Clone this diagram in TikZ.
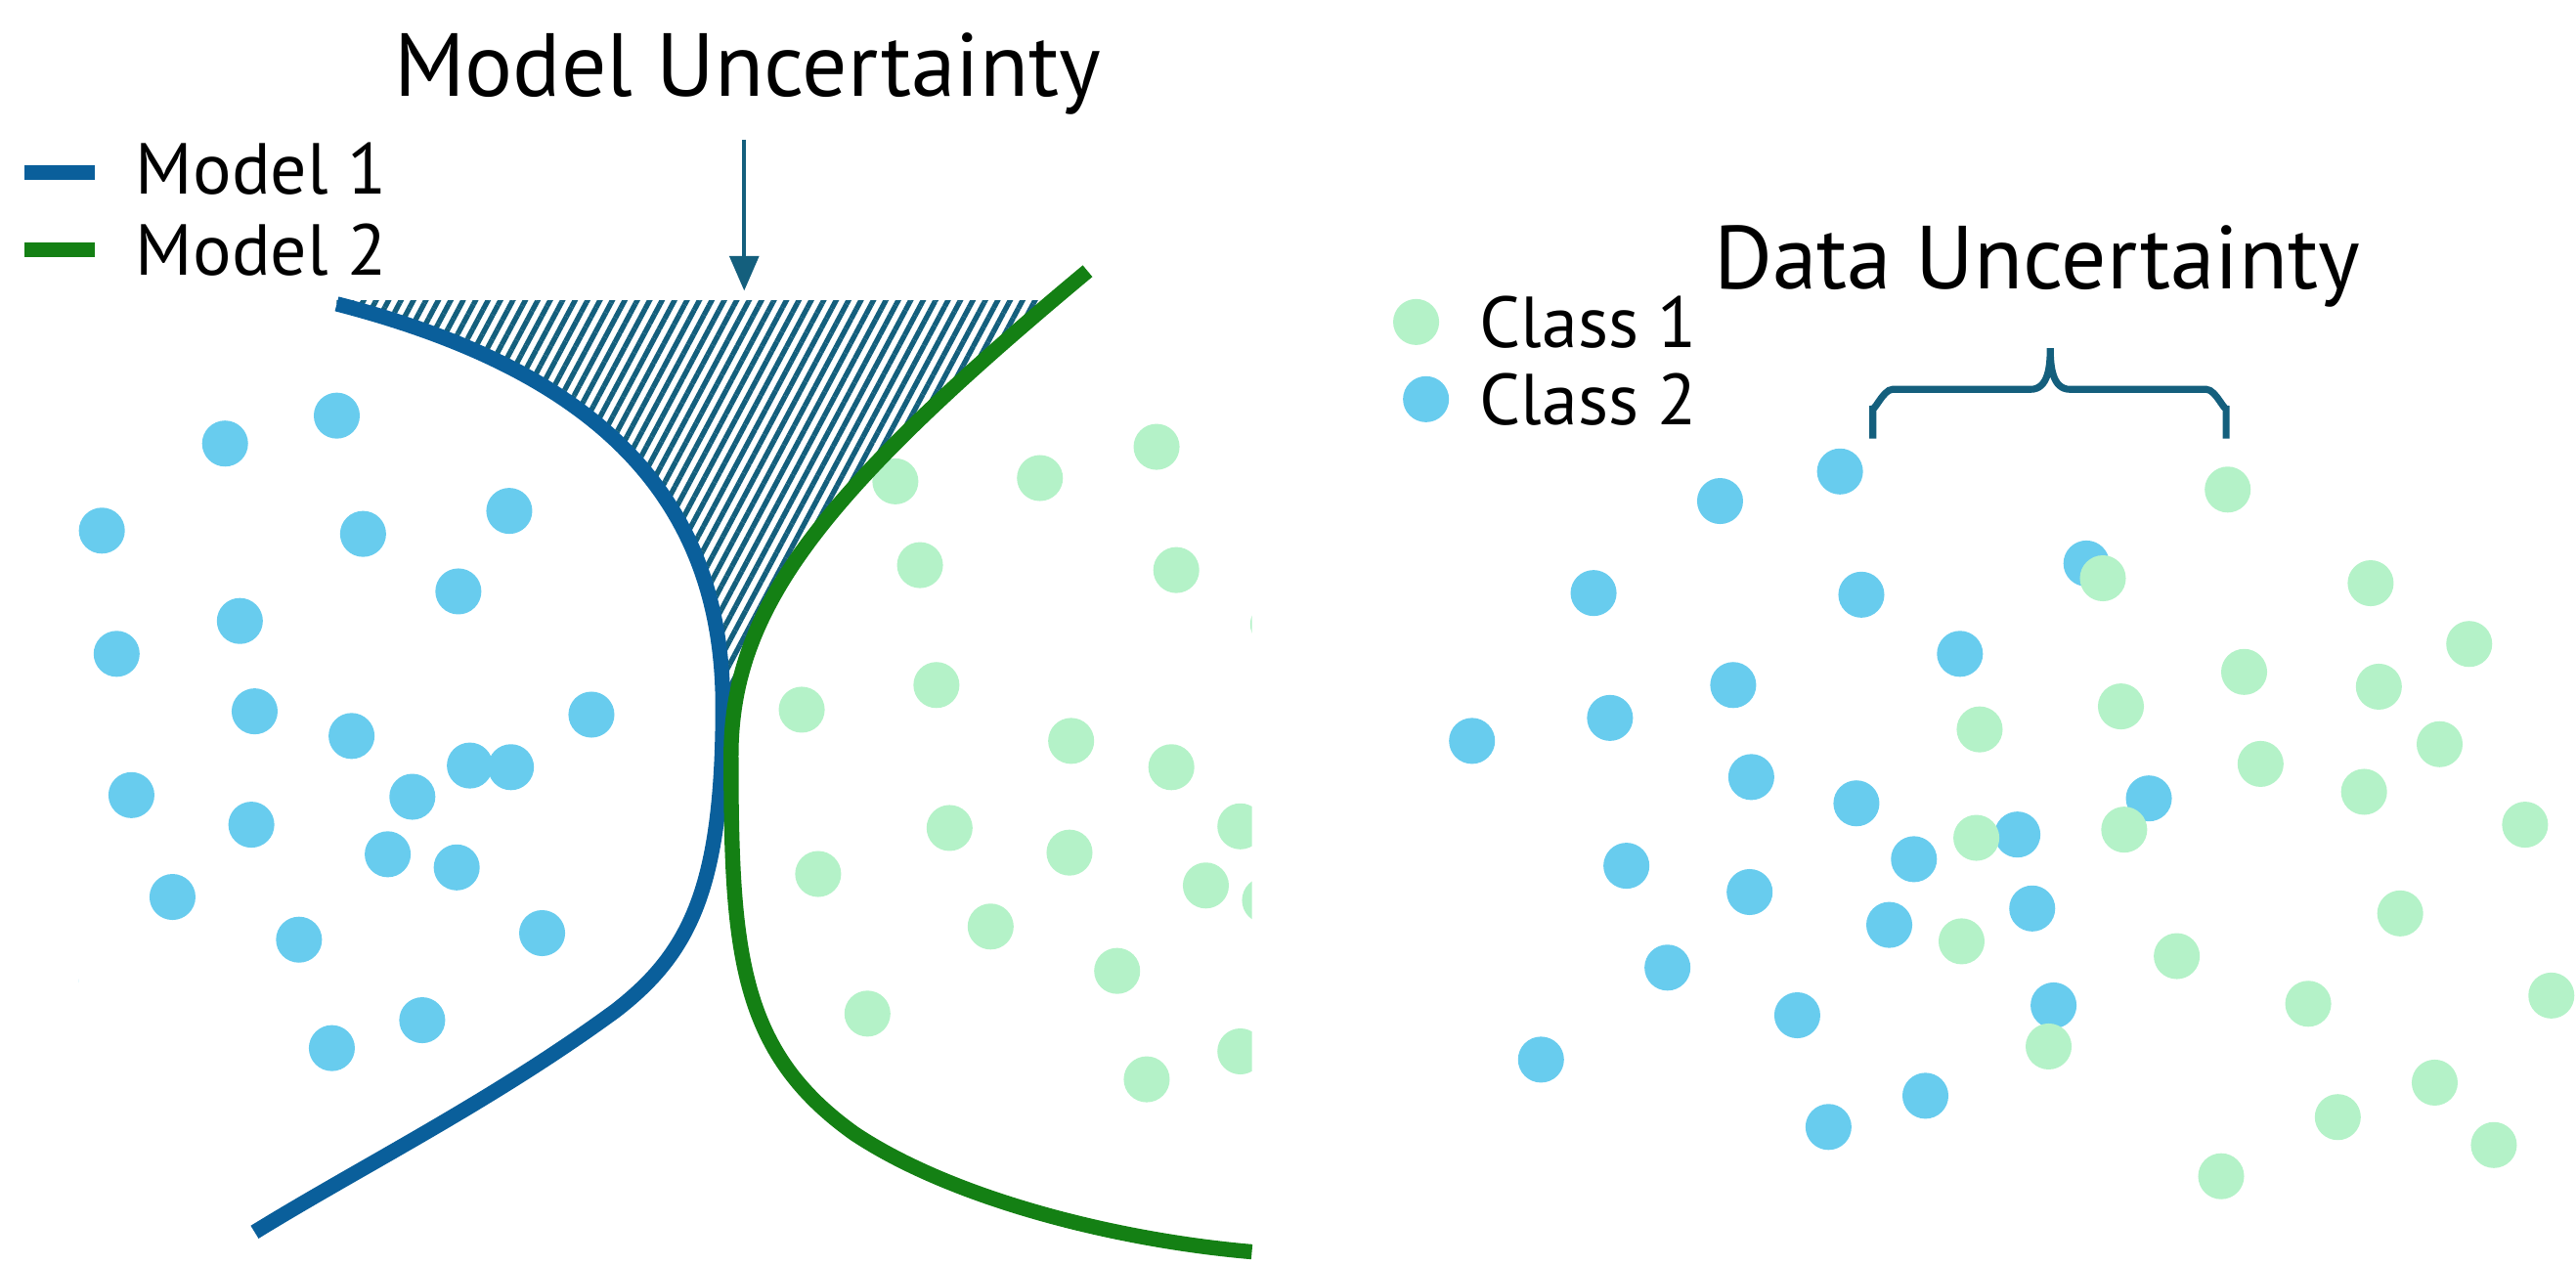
\documentclass[tikz,border=0pt]{standalone}
\usepackage{fontspec}
\setmainfont{PT Sans}
\usetikzlibrary{patterns.meta,arrows.meta}
\definecolor{mblue}{RGB}{10,95,155}
\definecolor{mgreen}{RGB}{20,128,20}
\definecolor{dblue}{RGB}{104,204,238}
\definecolor{dgreen}{RGB}{180,242,200}
\definecolor{teal}{RGB}{20,95,125}
\begin{document}
\begin{tikzpicture}[x=0.01cm,y=-0.01cm,
  lbl/.style={font=\fontsize{12.5}{15}\selectfont,anchor=west,inner sep=0},
  ttl/.style={font=\fontsize{15.5}{18}\selectfont,inner sep=0}]
\useasboundingbox (0,0) rectangle (1568,770);
\def\R{14}
% left dots
\begin{scope}
\clip (48,0) rectangle (762,770);
\foreach \x/\y in {137/270,205/253,62/323,221/325,310/311,146/378,279/360,71/398,155/433,214/448,360/435,80/484,153/502,251/485,286/466,311/467,236/520,278/528,105/546,182/572,330/568,202/638,257/621,34/597}
  \fill[dblue] (\x,\y) circle (\R);
\foreach \x/\y in {545/293,633/291,704/272,560/344,716/347,775/380,488/432,570/417,652/451,713/467,755/503,578/504,651/519,498/532,734/539,603/564,680/591,528/617,755/640,698/657,770/548}
  \fill[dgreen] (\x,\y) circle (\R);
\end{scope}
\def\bluecurve{(205,185) .. controls (360,225) and (440,300) .. (440,430) .. controls (440,540) and (420,580) .. (375,615) .. controls (300,670) and (220,710) .. (155,750)}
\def\greencurve{(662,165) .. controls (500,300) and (445,370) .. (445,460) .. controls (445,580) and (450,640) .. (520,690) .. controls (580,730) and (680,755) .. (762,762)}
% hatch
\begin{scope}
\clip (0,183) rectangle (1000,440);
\clip (0,0) -- (662,0) -- \greencurve -- (0,770) -- cycle;
\clip (1000,0) -- (205,0) -- \bluecurve -- (1000,770) -- cycle;
\fill[pattern={Lines[angle=62,distance=1.9pt,line width=0.9pt]},pattern color=teal] (0,0) rectangle (1000,770);
\end{scope}
\draw[mblue,line width=2.6pt] \bluecurve;
\draw[mgreen,line width=2.6pt] \greencurve;
% legend left
\draw[mblue,line width=2.6pt] (15,105) -- (58,105);
\draw[mgreen,line width=2.6pt] (15,152) -- (58,152);
\node[lbl] (m1) at (82,103) {Model 1};
\node[lbl] (m2) at (82,152) {Model 2};
\node[ttl] (mu) at (455,45) {Model Uncertainty};
\coordinate (at) at (453,177);
\draw[teal,line width=0.7pt,-{Triangle[length=6pt,width=5pt]}] (453,85) -- (at);
% right
\foreach \x/\y in {1120/287,1047/305,970/361,1133/362,1270/343,1193/398,1055/417,980/437,896/451,1066/473,1130/489,1308/486,1165/523,1228/508,990/527,1065/543,1150/563,1237/553,1015/589,1250/612,1094/618,938/645,1172/667,1113/686,868/243}
  \fill[dblue] (\x,\y) circle (\R);
\foreach \x/\y in {1356/298,1280/352,1443/355,1503/392,1366/409,1448/418,1291/430,1205/444,1485/453,1376/465,1439/482,1537/502,1293/505,1203/510,1461/556,1194/573,1325/582,1405/611,1553/606,1247/637,1482/659,1423/680,1518/697,1352/716,862/196}
  \fill[dgreen] (\x,\y) circle (\R);
\node[lbl] (c1) at (900,196) {Class 1};
\node[lbl] (c2) at (900,243) {Class 2};
\node[ttl] (du) at (1240,162) {Data Uncertainty};
\draw[teal,line width=1.2pt] (1140,267) -- (1140,247) to[out=-90,in=180] (1152,237) -- (1236,237) to[out=0,in=-90] (1248,212) to[out=-90,in=180] (1260,237) -- (1343,237) to[out=0,in=-90] (1355,247) -- (1355,267);
\end{tikzpicture}
\end{document}
